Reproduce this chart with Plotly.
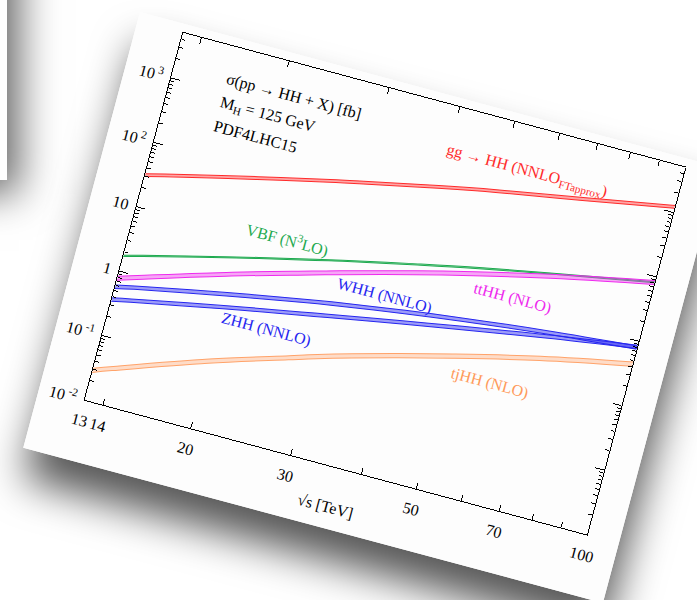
import plotly.graph_objects as go

# ---- data (cross sections in fb vs sqrt(s) in TeV) ----
sqrt_s = [13, 14, 20, 27, 30, 40, 50, 70, 100]
gg_hh = [31.05, 36.69, 77.0, 139.9, 170.0, 288.0, 420.0, 700.0, 1224.0]
vbf_hh = [1.726, 2.055, 4.5, 8.40, 10.4, 18.0, 27.0, 47.0, 82.8]
tthh = [0.775, 0.949, 2.49, 5.24, 6.8, 13.4, 21.9, 43.6, 82.1]
whh = [0.573, 0.660, 1.21, 1.94, 2.26, 3.29, 4.25, 5.95, 8.00]
zhh = [0.363, 0.416, 0.763, 1.23, 1.456, 2.27, 3.17, 5.16, 8.23]
tjhh = [0.0289, 0.0367, 0.111, 0.254, 0.339, 0.69, 1.15, 2.35, 4.44]

# relative half-width of each uncertainty band
unc = {"gg": 0.05, "vbf": 0.02, "tthh": 0.07, "whh": 0.06, "zhh": 0.06, "tjhh": 0.075}

x_tickvals = [13, 14, 20, 30, 40, 50, 60, 70, 80, 90, 100]
x_ticktext = ["13", "14", "20", "30", "", "50", "", "70", "", "", "100"]
y_tickvals = [0.01, 0.1, 1, 10, 100, 1000]
y_ticktext = ["10<sup> -2</sup>", "10<sup> -1</sup>", "1", "10", "10<sup> 2</sup>", "10<sup> 3</sup>"]

FONT = "Liberation Serif"

series = [
    ("gg", gg_hh, "#ff2b2b", "rgba(255,60,60,0.45)"),
    ("vbf", vbf_hh, "#1faa50", "rgba(31,170,80,0.45)"),
    ("tthh", tthh, "#ee2aee", "rgba(238,60,238,0.45)"),
    ("whh", whh, "#2626f0", "rgba(38,38,240,0.45)"),
    ("zhh", zhh, "#2626f0", "rgba(38,38,240,0.45)"),
    ("tjhh", tjhh, "#ffa36a", "rgba(255,170,120,0.4)"),
]

fig = go.Figure()
for key, vals, col, fcol in series:
    u = unc[key]
    lo = [v * (1 - u) for v in vals]
    hi = [v * (1 + u) for v in vals]
    fig.add_trace(go.Scatter(x=sqrt_s, y=lo, mode="lines", line=dict(color=col, width=1, shape="spline"),
                             showlegend=False, hoverinfo="skip"))
    fig.add_trace(go.Scatter(x=sqrt_s, y=hi, mode="lines", line=dict(color=col, width=1, shape="spline"),
                             fill="tonexty", fillcolor=fcol, showlegend=False, hoverinfo="skip"))

# minor ticks on the log y axis
y_minor = []
for d in range(-2, 4):
    for k in range(2, 10):
        v = k * 10 ** d
        if v < 5000:
            y_minor.append(v)

ann = [
    dict(x=0.10, y=0.914, text="σ(pp → HH + X) [fb]", color="black"),
    dict(x=0.10, y=0.848, text="M<sub>H</sub> = 125 GeV", color="black"),
    dict(x=0.10, y=0.786, text="PDF4LHC15", color="black"),
    dict(x=0.544, y=0.884, text="gg → HH (NNLO<sub>FTapprox</sub>)", color="#ff2b2b"),
    dict(x=0.212, y=0.547, text="VBF (N<sup>3</sup>LO)", color="#1faa50"),
    dict(x=0.663, y=0.551, text="ttHH (NLO)", color="#ee2aee"),
    dict(x=0.407, y=0.468, text="WHH (NNLO)", color="#2626f0"),
    dict(x=0.210, y=0.303, text="ZHH (NNLO)", color="#2626f0"),
    dict(x=0.663, y=0.319, text="tjHH (NLO)", color="#ff9a5a"),
]
for a in ann:
    fig.add_annotation(x=a["x"], y=a["y"], xref="paper", yref="paper", text=a["text"],
                       showarrow=False, xanchor="left", yanchor="middle",
                       font=dict(family=FONT, size=16, color=a["color"]))

fig.update_layout(
    width=600, height=451,
    margin=dict(l=47, r=33, t=9, b=62),
    paper_bgcolor="#fdfdfd", plot_bgcolor="#fdfdfd",
    font=dict(family=FONT, size=16, color="black"),
    xaxis=dict(type="log", range=[1.11394, 2.0], tickvals=x_tickvals, ticktext=x_ticktext,
               ticks="inside", ticklen=6, tickwidth=1, tickcolor="black",
               showline=True, linecolor="black", linewidth=1.3, mirror="ticks",
               showgrid=False, zeroline=False, ticklabelstandoff=6,
               tickfont=dict(family=FONT, size=16),
               title=dict(text="√s [TeV]", font=dict(family=FONT, size=16), standoff=6)),
    yaxis=dict(type="log", range=[-2, 3.7], tickvals=y_tickvals, ticktext=y_ticktext,
               ticks="inside", ticklen=9, tickwidth=1, tickcolor="black",
               showline=True, linecolor="black", linewidth=1.3, mirror="ticks",
               showgrid=False, zeroline=False, ticklabelstandoff=4,
               tickfont=dict(family=FONT, size=16),
               minor=dict(tickvals=y_minor, ticks="inside", ticklen=4, tickcolor="black", showgrid=False)),
)

post = """
var gd = document.getElementById('{plot_id}');
document.documentElement.style.background = '#ffffff';
document.body.style.margin = '0';
document.body.style.overflow = 'hidden';
document.body.style.background = '#ffffff';
var wrap = gd.parentElement;
wrap.style.position = 'absolute';
wrap.style.left = '140px';
wrap.style.top = '12px';
wrap.style.width = '600px';
wrap.style.height = '451px';
wrap.style.transformOrigin = '0 0';
wrap.style.transform = 'rotate(15deg)';
wrap.style.boxShadow = '8px 30px 40px rgba(0,0,0,0.66)';
wrap.style.background = '#fdfdfd';
wrap.style.zIndex = '2';
var bg = document.createElement('div');
bg.style.position = 'absolute';
bg.style.left = '-400px';
bg.style.top = '-400px';
bg.style.width = '407px';
bg.style.height = '580px';
bg.style.background = '#ffffff';
bg.style.boxShadow = '12px 14px 38px rgba(0,0,0,0.6)';
bg.style.zIndex = '1';
document.body.insertBefore(bg, document.body.firstChild);
"""

fig.write_html("out.html", post_script=post, config={"displayModeBar": False})
